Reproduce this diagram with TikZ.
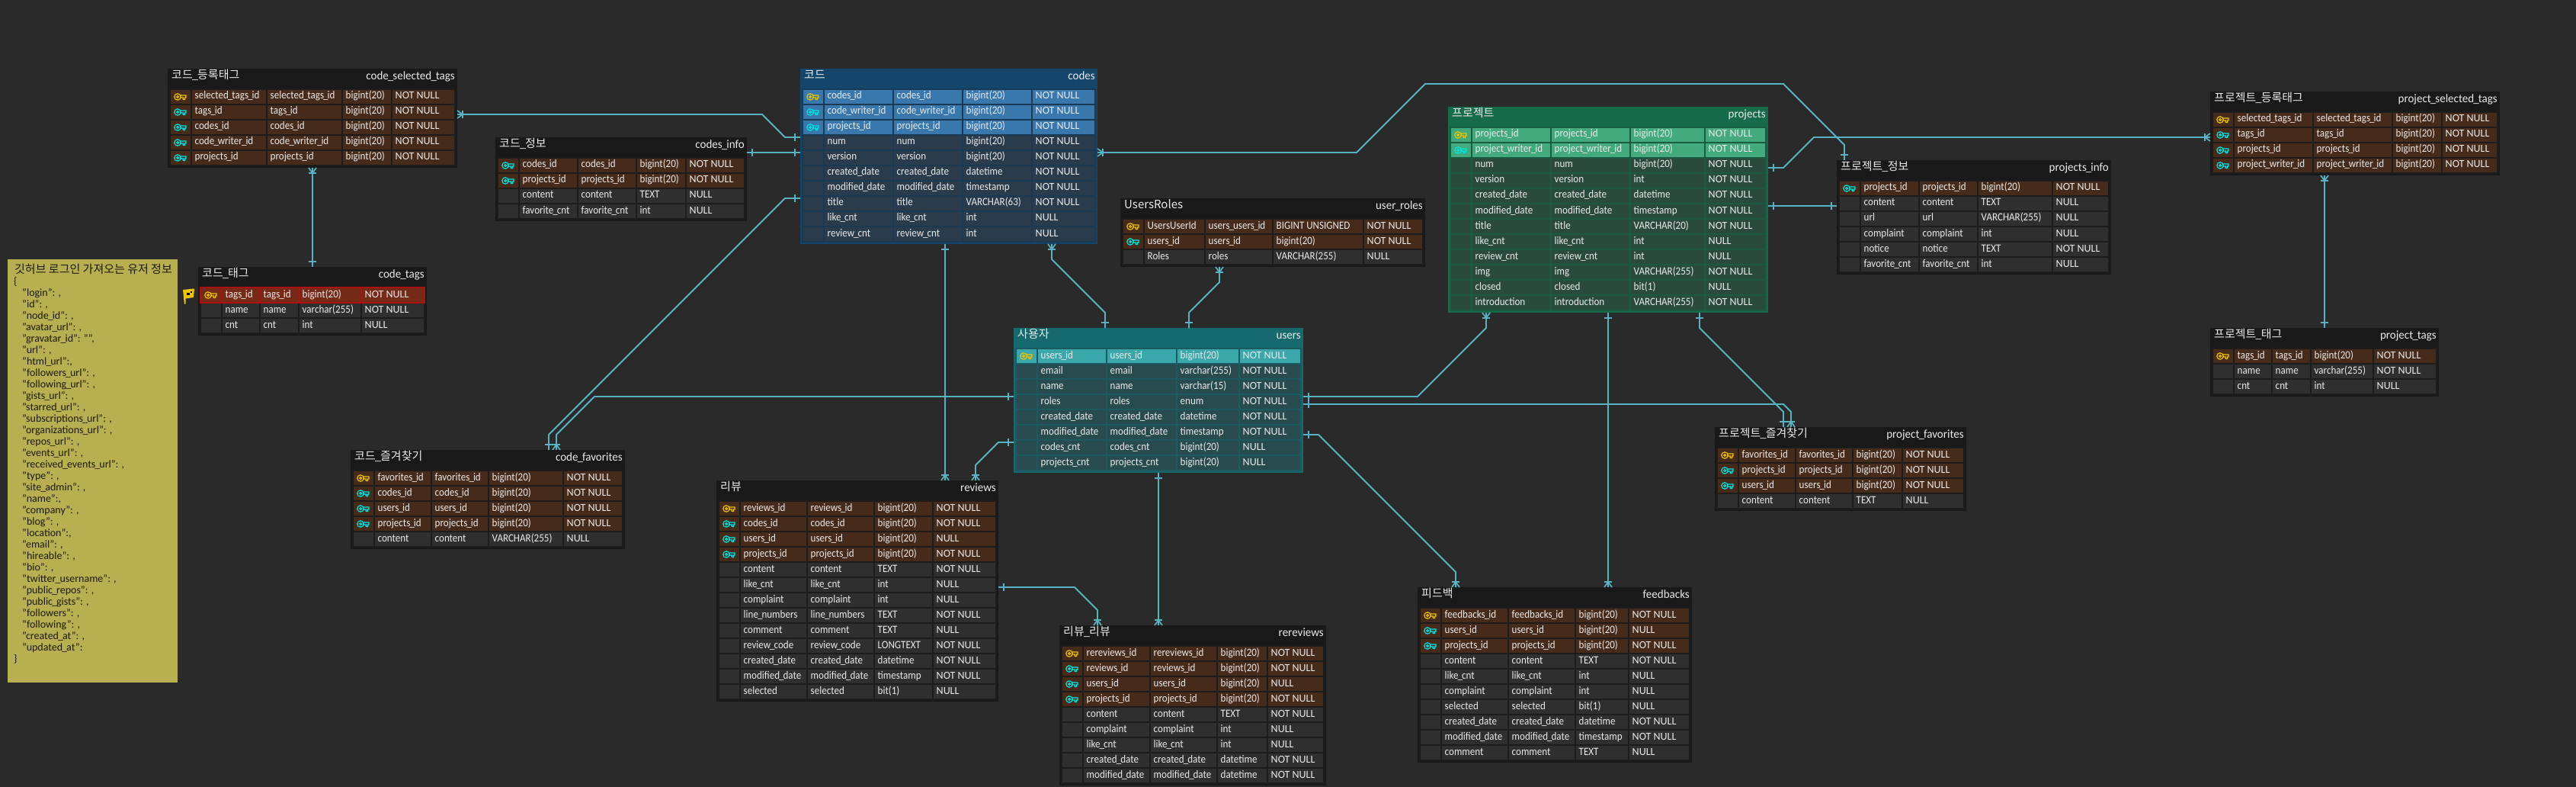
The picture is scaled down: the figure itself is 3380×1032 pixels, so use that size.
\documentclass[tikz,border=0pt]{standalone}
\usepackage{fontspec}
\usetikzlibrary{arrows.meta}
\setmainfont{Carlito}
\newfontfamily\krfont{Noto Sans CJK KR}
\newfontfamily\cellfont[FakeStretch=0.9]{Carlito}
\newfontfamily\enfont[FakeStretch=0.97]{Carlito}
\catcode`\_=\active
\def_{{\kern-1pt\char"5F\kern-1pt}}
\definecolor{bgc}{HTML}{2A2A2A}
\definecolor{linec}{HTML}{57B2C2}
\definecolor{notec}{HTML}{B7AF50}
\definecolor{yelkey}{HTML}{EDC400}
\definecolor{cyakey}{HTML}{00E6E6}
\definecolor{txtc}{HTML}{EAEAEA}
% themes: hdr gap key norm
\definecolor{hdrB}{HTML}{191919}\definecolor{gapB}{HTML}{1C1C1C}\definecolor{keyB}{HTML}{472B1A}\definecolor{normB}{HTML}{2F2F2F}
\definecolor{hdrC}{HTML}{14466B}\definecolor{gapC}{HTML}{193A52}\definecolor{keyC}{HTML}{3878AD}\definecolor{normC}{HTML}{2A3C4B}
\definecolor{hdrU}{HTML}{166A6E}\definecolor{gapU}{HTML}{1B5A5E}\definecolor{keyU}{HTML}{3AA8AA}\definecolor{normU}{HTML}{284B4F}
\definecolor{hdrP}{HTML}{166B4A}\definecolor{gapP}{HTML}{195A40}\definecolor{keyP}{HTML}{43AA7E}\definecolor{normP}{HTML}{2B4A3E}
\definecolor{redcell}{HTML}{752A18}
\definecolor{redrow}{HTML}{AC1010}
\pgfdeclarearrow{
  name=ERone,
  setup code={
    \pgfarrowssettipend{0pt}\pgfarrowssetlineend{0pt}\pgfarrowssetvisualtipend{0pt}
    \pgfarrowssetbackend{-8pt}\pgfarrowssetvisualbackend{-8pt}
    \pgfarrowsupperhullpoint{-8pt}{5pt}\pgfarrowsupperhullpoint{0pt}{0pt}
  },
  drawing code={
    \pgfsetdash{}{0pt}\pgfsetlinewidth{1.7pt}
    \pgfpathmoveto{\pgfpoint{-7pt}{-5pt}}\pgfpathlineto{\pgfpoint{-7pt}{5pt}}\pgfusepathqstroke
  },
}
\pgfdeclarearrow{
  name=ERcrow,
  setup code={
    \pgfarrowssettipend{0pt}\pgfarrowssetlineend{0pt}\pgfarrowssetvisualtipend{0pt}
    \pgfarrowssetbackend{-8pt}\pgfarrowssetvisualbackend{-8pt}
    \pgfarrowsupperhullpoint{-8pt}{5pt}\pgfarrowsupperhullpoint{0pt}{5pt}
  },
  drawing code={
    \pgfsetdash{}{0pt}\pgfsetlinewidth{1.7pt}
    \pgfpathmoveto{\pgfpoint{-7pt}{-5pt}}\pgfpathlineto{\pgfpoint{-7pt}{5pt}}\pgfusepathqstroke
    \pgfpathmoveto{\pgfpoint{0pt}{-5pt}}\pgfpathlineto{\pgfpoint{-7pt}{0pt}}\pgfpathlineto{\pgfpoint{0pt}{5pt}}\pgfusepathqstroke
  },
}
\newcommand\keypath{%
  (9,9) circle[radius=4.2] (9,9) circle[radius=1.4]
  (13.2,7) -- (20,7) -- (20,10) -- (18.4,10) -- (18.4,12.6) -- (16.2,12.6) -- (16.2,10) -- (13.2,10)}
\tikzset{
  conn/.style={draw=linec,line width=1.9pt,line join=round},
  tabbox/.style={anchor=north west,inner sep=0pt,outer sep=0pt},
  celltext/.style={anchor=base west,inner sep=0pt,text=txtc,font=\cellfont\fontsize{14.5}{14}\selectfont},
  cellnull/.style={anchor=base west,inner sep=0pt,text=txtc,font=\fontsize{14}{14}\selectfont},
  titlekr/.style={anchor=base west,inner sep=0pt,text=txtc,font=\krfont\fontsize{15}{15}\selectfont},
  titleen/.style={anchor=base east,inner sep=0pt,text=txtc,font=\enfont\fontsize{15.5}{15}\selectfont},
  fillP/.style={fill=key\tname},fillF/.style={fill=key\tname},
  fillR/.style={fill=redcell},fillN/.style={fill=norm\tname},
  rowbgP/.style={},rowbgF/.style={},rowbgN/.style={},rowbgR/.style={fill=redrow},
  keyP/.pic={\draw[draw=yelkey,line width=1.2pt] \keypath;},
  keyR/.pic={\draw[draw=yelkey,line width=1.2pt] \keypath;},
  keyF/.pic={\draw[draw=cyakey,line width=1.2pt] \keypath;},
  keyN/.pic={},
}
% geometry: id,x,y,w,rows,a,b,c,theme
\newcommand\tblgeom[9]{%
  \def\tid{#1}\def\tx{#2}\def\ty{#3}\def\tw{#4}\def\tn{#5}\def\ta{#6}\def\tb{#7}\def\tc{#8}\def\tname{#9}}
% body: korean, english, rows
\newcommand\tblbody[3]{%
  \pgfmathsetmacro\th{30+20*\tn}
  \node[tabbox,minimum width=\tw pt,minimum height=\th pt,fill=hdr\tname] (\tid) at (\tx,\ty) {};
  \fill[gap\tname] (\tx+2,\ty+26) rectangle (\tx+\tw-2,\ty+\th-2);
  \node[titlekr] (\tid-kr) at (\tx+5,\ty+13.5) {#1};
  \node[titleen] (\tid-en) at (\tx+\tw-3,\ty+14.5) {#2};
  \pgfmathsetmacro\cxa{\tx+32}
  \pgfmathsetmacro\cxb{\cxa+\ta+2}
  \pgfmathsetmacro\cxc{\cxb+\tb+2}
  \pgfmathsetmacro\cxd{\cxc+\tc+2}
  \pgfmathsetmacro\cxe{\tx+\tw-4}
  \foreach \k/\p/\q/\t/\u [count=\i from 0] in {#3}{
    \pgfmathsetmacro\ry{\ty+28+20*\i}
    \path[rowbg\k] (\tx+2,\ry-2) rectangle (\tx+\tw-2,\ry+20);
    \path[fill\k] (\tx+4,\ry) rectangle (\tx+30,\ry+18);
    \path[fill\k] (\cxa,\ry) rectangle ++(\ta,18);
    \path[fill\k] (\cxb,\ry) rectangle ++(\tb,18);
    \path[fill\k] (\cxc,\ry) rectangle ++(\tc,18);
    \path[fill\k] (\cxd,\ry) rectangle (\cxe,\ry+18);
    \pic at (\tx+4,\ry) {key\k};
    \node[celltext] (\tid-\i-a) at (\cxa+3.5,\ry+12) {\p};
    \node[celltext] (\tid-\i-b) at (\cxb+3.5,\ry+12) {\q};
    \node[celltext] (\tid-\i-c) at (\cxc+3.5,\ry+12) {\t};
    \node[cellnull] (\tid-\i-d) at (\cxd+3.5,\ry+12) {\u};
  }
}
\begin{document}
\begin{tikzpicture}[x=1pt,y=-1pt]
\useasboundingbox (0,0) rectangle (3380,1032);
\fill[bgc] (0,0) rectangle (3380,1032);

% note
\node[tabbox,fill=notec,minimum width=223pt,minimum height=555pt] (note) at (10,340) {};
\node[anchor=north west,inner sep=0pt,align=left,text=black!85!notec,font=\fontsize{14}{15}\selectfont] (notetext) at ([shift={(8,5.5)}]note.north west) {\def_{\char"5F}%
\hspace*{1pt}{\krfont\fontsize{15}{15}\selectfont 깃허브 로그인 가져오는 유저 정보}\\
\{\\
\hspace*{11pt}"login": ,\\
\hspace*{11pt}"id": ,\\
\hspace*{11pt}"node_id": ,\\
\hspace*{11pt}"avatar_url": ,\\
\hspace*{11pt}"gravatar_id": "",\\
\hspace*{11pt}"url": ,\\
\hspace*{11pt}"html_url":,\\
\hspace*{11pt}"followers_url": ,\\
\hspace*{11pt}"following_url": ,\\
\hspace*{11pt}"gists_url": ,\\
\hspace*{11pt}"starred_url": ,\\
\hspace*{11pt}"subscriptions_url": ,\\
\hspace*{11pt}"organizations_url": ,\\
\hspace*{11pt}"repos_url": ,\\
\hspace*{11pt}"events_url": ,\\
\hspace*{11pt}"received_events_url": ,\\
\hspace*{11pt}"type": ,\\
\hspace*{11pt}"site_admin": ,\\
\hspace*{11pt}"name":,\\
\hspace*{11pt}"company": ,\\
\hspace*{11pt}"blog": ,\\
\hspace*{11pt}"location":,\\
\hspace*{11pt}"email": ,\\
\hspace*{11pt}"hireable": ,\\
\hspace*{11pt}"bio": ,\\
\hspace*{11pt}"twitter_username": ,\\
\hspace*{11pt}"public_repos": ,\\
\hspace*{11pt}"public_gists": ,\\
\hspace*{11pt}"followers": ,\\
\hspace*{11pt}"following": ,\\
\hspace*{11pt}"created_at": ,\\
\hspace*{11pt}"updated_at":\\
\}};

% tables
\tblgeom{csel}{220}{90}{380}{5}{97}{97}{63}{B}
\tblbody{코드_등록태그}{code_selected_tags}{
P/selected_tags_id/selected_tags_id/bigint(20)/NOT NULL,
F/tags_id/tags_id/bigint(20)/NOT NULL,
F/codes_id/codes_id/bigint(20)/NOT NULL,
F/code_writer_id/code_writer_id/bigint(20)/NOT NULL,
F/projects_id/projects_id/bigint(20)/NOT NULL}

\tblgeom{ctags}{260}{350}{300}{3}{48}{49}{80}{B}
\tblbody{코드_태그}{code_tags}{
R/tags_id/tags_id/bigint(20)/NOT NULL,
N/name/name/varchar(255)/NOT NULL,
N/cnt/cnt/int/NULL}

\tblgeom{cinfo}{650}{180}{330}{4}{75}{75}{63}{B}
\tblbody{코드_정보}{codes_info}{
F/codes_id/codes_id/bigint(20)/NOT NULL,
F/projects_id/projects_id/bigint(20)/NOT NULL,
N/content/content/TEXT/NULL,
N/favorite_cnt/favorite_cnt/int/NULL}

\tblgeom{codes}{1050}{90}{390}{10}{89}{89}{89}{C}
\tblbody{코드}{codes}{
P/codes_id/codes_id/bigint(20)/NOT NULL,
F/code_writer_id/code_writer_id/bigint(20)/NOT NULL,
F/projects_id/projects_id/bigint(20)/NOT NULL,
N/num/num/bigint(20)/NOT NULL,
N/version/version/bigint(20)/NOT NULL,
N/created_date/created_date/datetime/NOT NULL,
N/modified_date/modified_date/timestamp/NOT NULL,
N/title/title/VARCHAR(63)/NOT NULL,
N/like_cnt/like_cnt/int/NULL,
N/review_cnt/review_cnt/int/NULL}

\tblgeom{uroles}{1470}{260}{400}{3}{78}{87}{117}{B}
\tblbody{UsersRoles}{user_roles}{
P/UsersUserId/users_users_id/BIGINT UNSIGNED/NOT NULL,
F/users_id/users_id/bigint(20)/NOT NULL,
N/Roles/roles/VARCHAR(255)/NULL}

\tblgeom{users}{1330}{430}{380}{8}{89}{90}{80}{U}
\tblbody{사용자}{users}{
P/users_id/users_id/bigint(20)/NOT NULL,
N/email/email/varchar(255)/NOT NULL,
N/name/name/varchar(15)/NOT NULL,
N/roles/roles/enum/NOT NULL,
N/created_date/created_date/datetime/NOT NULL,
N/modified_date/modified_date/timestamp/NOT NULL,
N/codes_cnt/codes_cnt/bigint(20)/NULL,
N/projects_cnt/projects_cnt/bigint(20)/NULL}

\tblgeom{cfav}{460}{590}{360}{5}{73}{73}{96}{B}
\tblbody{코드_즐겨찾기}{code_favorites}{
P/favorites_id/favorites_id/bigint(20)/NOT NULL,
F/codes_id/codes_id/bigint(20)/NOT NULL,
F/users_id/users_id/bigint(20)/NOT NULL,
F/projects_id/projects_id/bigint(20)/NOT NULL,
N/content/content/VARCHAR(255)/NULL}

\tblgeom{reviews}{940}{630}{370}{13}{86}{86}{75}{B}
\tblbody{리뷰}{reviews}{
P/reviews_id/reviews_id/bigint(20)/NOT NULL,
F/codes_id/codes_id/bigint(20)/NOT NULL,
F/users_id/users_id/bigint(20)/NULL,
F/projects_id/projects_id/bigint(20)/NOT NULL,
N/content/content/TEXT/NOT NULL,
N/like_cnt/like_cnt/int/NULL,
N/complaint/complaint/int/NULL,
N/line_numbers/line_numbers/TEXT/NOT NULL,
N/comment/comment/TEXT/NULL,
N/review_code/review_code/LONGTEXT/NOT NULL,
N/created_date/created_date/datetime/NOT NULL,
N/modified_date/modified_date/timestamp/NOT NULL,
N/selected/selected/bit(1)/NULL}

\tblgeom{rereviews}{1390}{820}{350}{9}{86}{86}{64}{B}
\tblbody{리뷰_리뷰}{rereviews}{
P/rereviews_id/rereviews_id/bigint(20)/NOT NULL,
F/reviews_id/reviews_id/bigint(20)/NOT NULL,
F/users_id/users_id/bigint(20)/NULL,
F/projects_id/projects_id/bigint(20)/NOT NULL,
N/content/content/TEXT/NOT NULL,
N/complaint/complaint/int/NULL,
N/like_cnt/like_cnt/int/NULL,
N/created_date/created_date/datetime/NOT NULL,
N/modified_date/modified_date/datetime/NOT NULL}

\tblgeom{feedbacks}{1860}{770}{360}{10}{86}{86}{68}{B}
\tblbody{피드백}{feedbacks}{
P/feedbacks_id/feedbacks_id/bigint(20)/NOT NULL,
F/users_id/users_id/bigint(20)/NULL,
F/projects_id/projects_id/bigint(20)/NOT NULL,
N/content/content/TEXT/NOT NULL,
N/like_cnt/like_cnt/int/NULL,
N/complaint/complaint/int/NULL,
N/selected/selected/bit(1)/NULL,
N/created_date/created_date/datetime/NOT NULL,
N/modified_date/modified_date/timestamp/NOT NULL,
N/comment/comment/TEXT/NULL}

\tblgeom{projects}{1900}{140}{420}{12}{102}{102}{96}{P}
\tblbody{프로젝트}{projects}{
P/projects_id/projects_id/bigint(20)/NOT NULL,
F/project_writer_id/project_writer_id/bigint(20)/NOT NULL,
N/num/num/bigint(20)/NOT NULL,
N/version/version/int/NOT NULL,
N/created_date/created_date/datetime/NOT NULL,
N/modified_date/modified_date/timestamp/NOT NULL,
N/title/title/VARCHAR(20)/NOT NULL,
N/like_cnt/like_cnt/int/NULL,
N/review_cnt/review_cnt/int/NULL,
N/img/img/VARCHAR(255)/NOT NULL,
N/closed/closed/bit(1)/NULL,
N/introduction/introduction/VARCHAR(255)/NOT NULL}

\tblgeom{pinfo}{2410}{210}{360}{6}{75}{75}{96}{B}
\tblbody{프로젝트_정보}{projects_info}{
F/projects_id/projects_id/bigint(20)/NOT NULL,
N/content/content/TEXT/NULL,
N/url/url/VARCHAR(255)/NULL,
N/complaint/complaint/int/NULL,
N/notice/notice/TEXT/NOT NULL,
N/favorite_cnt/favorite_cnt/int/NULL}

\tblgeom{pfav}{2250}{560}{330}{4}{73}{73}{63}{B}
\tblbody{프로젝트_즐겨찾기}{project_favorites}{
P/favorites_id/favorites_id/bigint(20)/NOT NULL,
F/projects_id/projects_id/bigint(20)/NOT NULL,
F/users_id/users_id/bigint(20)/NOT NULL,
N/content/content/TEXT/NULL}

\tblgeom{psel}{2900}{120}{380}{4}{102}{102}{63}{B}
\tblbody{프로젝트_등록태그}{project_selected_tags}{
P/selected_tags_id/selected_tags_id/bigint(20)/NOT NULL,
F/tags_id/tags_id/bigint(20)/NOT NULL,
F/projects_id/projects_id/bigint(20)/NOT NULL,
F/project_writer_id/project_writer_id/bigint(20)/NOT NULL}

\tblgeom{ptags}{2900}{430}{300}{3}{48}{49}{80}{B}
\tblbody{프로젝트_태그}{project_tags}{
P/tags_id/tags_id/bigint(20)/NOT NULL,
N/name/name/varchar(255)/NOT NULL,
N/cnt/cnt/int/NULL}

% flag
\fill[yelkey] (240,380) -- (255,378.5) -- (254,390) -- (243.5,391.5) -- (243.6,398.5) -- (241.8,398.5) -- cycle;
\fill[black] (245,383.5) rectangle (249,387);
\fill[black] (249.5,381.5) rectangle (252,384);

% connectors
\draw[conn,{ERcrow}-{ERone}] ([shift={(0,60)}]csel.north east) -- (1000,150) -- (1030,180) -- ([shift={(0,90)}]codes.north west);
\draw[conn,{ERcrow}-{ERone}] ([shift={(190,0)}]csel.south west) -- ([shift={(150,0)}]ctags.north west);
\draw[conn,{ERone}-{ERone}] ([shift={(0,20)}]cinfo.north east) -- ([shift={(0,110)}]codes.north west);
\draw[conn,{ERone}-{ERone}] ([shift={(0,170)}]codes.north west) -- (1030,260) -- (720,570) -- ([shift={(260,0)}]cfav.north west);
\draw[conn,{ERone}-{ERcrow}] ([shift={(0,90)}]users.north west) -- (780,520) -- (730,570) -- ([shift={(270,0)}]cfav.north west);
\draw[conn,{ERone}-{ERcrow}] ([shift={(190,0)}]codes.south west) -- ([shift={(300,0)}]reviews.north west);
\draw[conn,{ERcrow}-{ERone}] ([shift={(330,0)}]codes.south west) -- (1380,340) -- (1450,410) -- ([shift={(120,0)}]users.north west);
\draw[conn,{ERcrow}-{ERone}] ([shift={(130,0)}]uroles.south west) -- (1600,370) -- (1560,410) -- ([shift={(230,0)}]users.north west);
\draw[conn,{ERcrow}-{ERone}] ([shift={(0,110)}]codes.north east) -- (1780,200) -- (1870,110) -- (2340,110) -- (2420,190) -- ([shift={(10,0)}]pinfo.north west);
\draw[conn,{ERone}-{ERcrow}] ([shift={(0,80)}]projects.north east) -- (2340,220) -- (2380,180) -- ([shift={(0,60)}]psel.north west);
\draw[conn,{ERone}-{ERone}] ([shift={(0,130)}]projects.north east) -- ([shift={(0,60)}]pinfo.north west);
\draw[conn,{ERone}-{ERcrow}] ([shift={(0,90)}]users.north east) -- (1860,520) -- (1950,430) -- ([shift={(50,0)}]projects.south west);
\draw[conn,{ERone}-{ERcrow}] ([shift={(210,0)}]projects.south west) -- ([shift={(250,0)}]feedbacks.north west);
\draw[conn,{ERone}-{ERone}] ([shift={(330,0)}]projects.south west) -- (2230,430) -- (2340,540) -- ([shift={(90,0)}]pfav.north west);
\draw[conn,{ERone}-{ERcrow}] ([shift={(0,100)}]users.north east) -- (2340,530) -- (2350,540) -- ([shift={(100,0)}]pfav.north west);
\draw[conn,{ERone}-{ERcrow}] ([shift={(0,140)}]users.north east) -- (1730,570) -- (1910,750) -- ([shift={(50,0)}]feedbacks.north west);
\draw[conn,{ERone}-{ERcrow}] ([shift={(0,150)}]users.north west) -- (1310,580) -- (1280,610) -- ([shift={(340,0)}]reviews.north west);
\draw[conn,{ERone}-{ERcrow}] ([shift={(0,140)}]reviews.north east) -- (1410,770) -- (1440,800) -- ([shift={(50,0)}]rereviews.north west);
\draw[conn,{ERone}-{ERcrow}] ([shift={(190,0)}]users.south west) -- ([shift={(130,0)}]rereviews.north west);
\draw[conn,{ERcrow}-{ERone}] ([shift={(150,0)}]psel.south west) -- ([shift={(150,0)}]ptags.north west);
\end{tikzpicture}
\end{document}
